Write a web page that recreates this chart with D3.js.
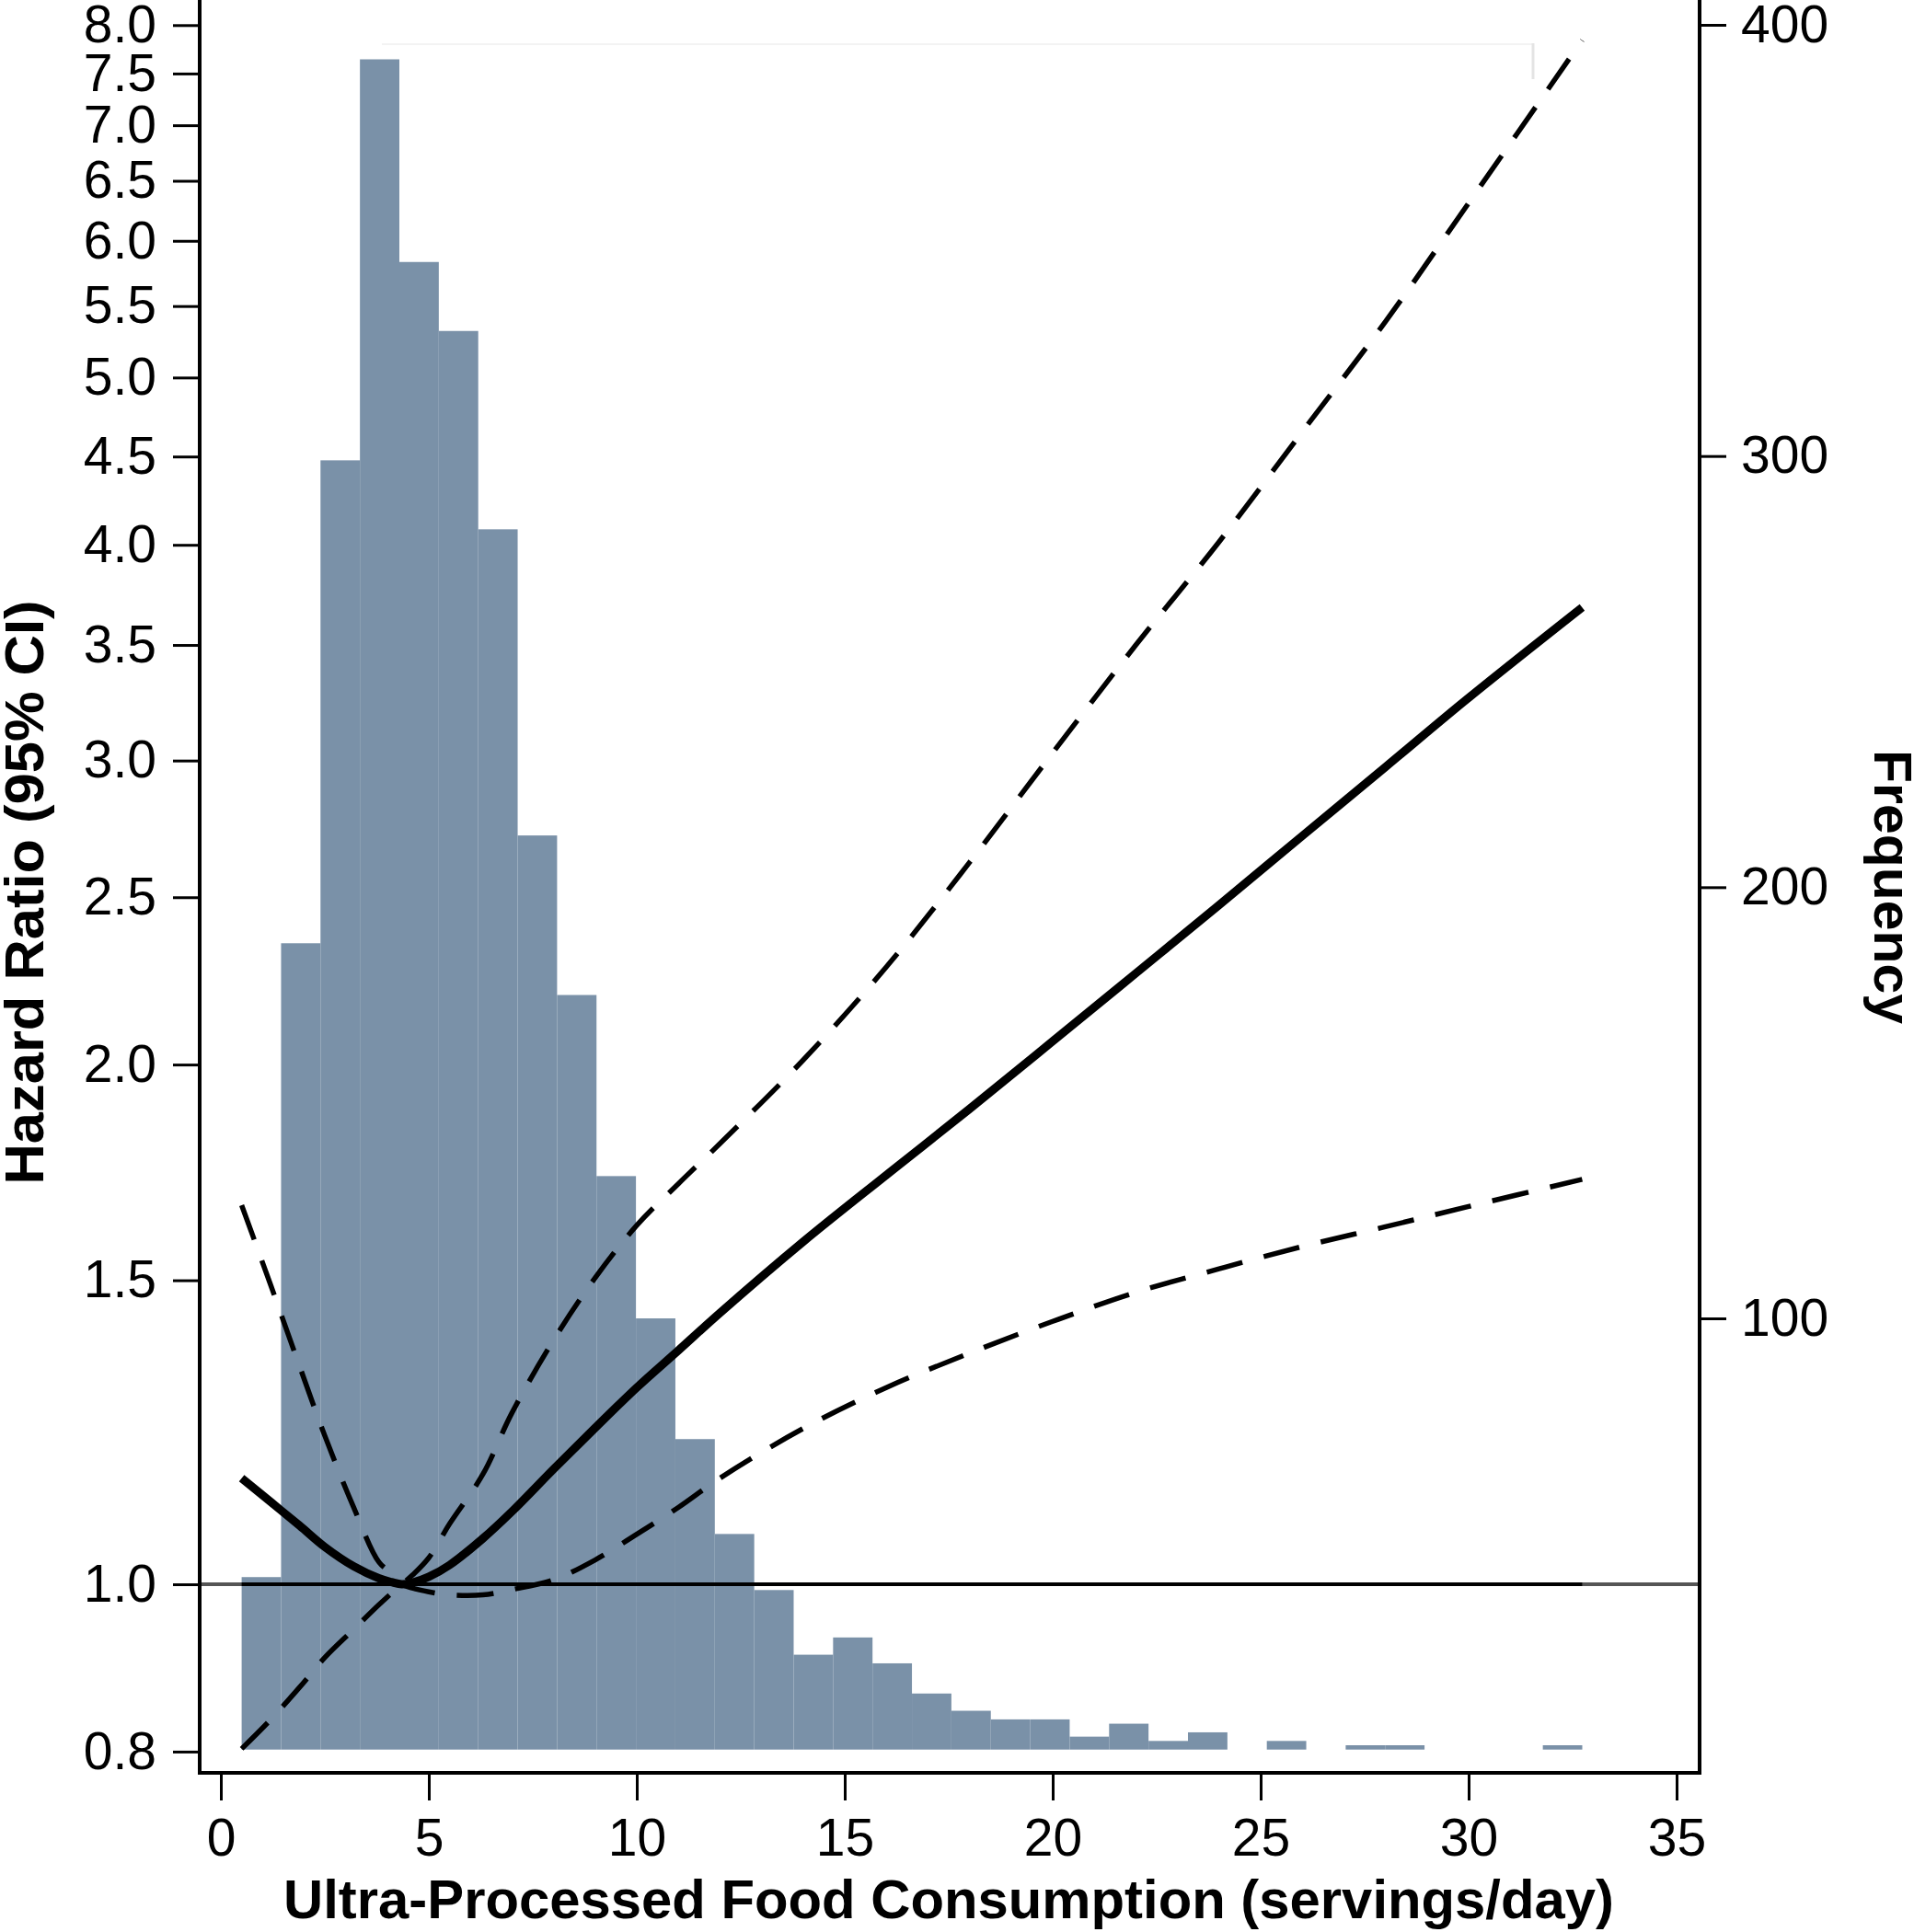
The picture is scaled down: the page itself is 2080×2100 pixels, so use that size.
<!DOCTYPE html>
<html><head><meta charset="utf-8">
<script src="https://cdn.jsdelivr.net/npm/d3@7"></script>
<style>body{margin:0;background:#fff} svg{display:block;background:#fff}</style>
</head><body><svg id="c" width="2080" height="2100"></svg>
<script>
// ---------- data ----------
const servings    = [0.5, 1.2, 1.9, 2.5, 3.2, 3.8, 4.1, 4.35, 4.6, 5.0, 5.5, 6.3, 7.0, 8.0, 9.0, 10.0, 11.0, 12.0, 14.0, 16.0, 18.0, 20.0, 22.0, 24.0, 26.0, 28.0, 30.0, 32.73];
const hazardRatio = [1.152,1.116,1.081,1.051,1.024,1.008,1.003,1.000,1.002,1.010,1.026,1.063,1.102,1.166,1.232,1.300,1.366,1.436,1.579,1.726,1.885,2.063,2.259,2.474,2.713,2.974,3.262,3.680];
const ciUpper     = [1.658,1.490,1.336,1.219,1.107,1.030,1.015,1.000,1.012,1.036,1.084,1.158,1.257,1.385,1.505,1.614,1.706,1.800,2.012,2.278,2.619,3.031,3.500,4.016,4.651,5.387,6.310,7.840];
const ciLower     = [0.803,0.835,0.872,0.907,0.942,0.973,0.988,1.000,0.995,0.990,0.986,0.986,0.993,1.006,1.033,1.069,1.108,1.152,1.231,1.300,1.361,1.420,1.476,1.523,1.569,1.611,1.655,1.716];
const refIndex = 7;          // reference level (HR = 1)
const refHR = 1.0;

const binEdges = [0.500,1.448,2.396,3.344,4.292,5.240,6.188,7.136,8.084,9.032,9.980,10.928,11.876,12.824,13.772,14.720,15.668,16.616,17.564,18.512,19.460,20.408,21.356,22.304,23.252,24.200,25.148,26.096,27.044,27.992,28.940,29.888,30.836,31.784,32.732];
const binFreq  = [40,187,299,392,345,329,283,212,175,133,100,72,50,37,22,26,20,13,9,7,7,3,6,2,4,0,2,0,1,1,0,0,0,1];

const hrTicks   = [0.8,1.0,1.5,2.0,2.5,3.0,3.5,4.0,4.5,5.0,5.5,6.0,6.5,7.0,7.5,8.0];
const xTicks    = [0,5,10,15,20,25,30,35];
const freqTicks = [100,200,300,400];

const xTitle = "Ultra-Processed Food Consumption (servings/day)";
const yTitle = "Hazard Ratio (95% CI)";
const y2Title = "Frequency";

// ---------- layout ----------
const L = 217, R = 1847, T = 0, B = 1927;
const FONT = "'Liberation Sans', Arial, Helvetica, sans-serif";
const BAR = "#7a91a8";

const svg = d3.select('#c');
const x   = d3.scaleLinear().domain([0,35]).range([240,1822]);
const yHR = d3.scaleLog().domain([0.8,8]).range([1903.9,27.3]);
const yF  = d3.scaleLinear().domain([0,400]).range([1901.7,27]);

// histogram
const bins = binFreq.map((f,i)=>({x0:binEdges[i], x1:binEdges[i+1], f}));
svg.append('g').selectAll('rect').data(bins.filter(d=>d.f>0)).join('rect')
  .attr('x', d=>x(d.x0)).attr('width', d=>x(d.x1)-x(d.x0))
  .attr('y', d=>yF(d.f)).attr('height', d=>yF(0)-yF(d.f))
  .attr('fill', BAR);

// faint artifact box at the top
svg.append('line').attr('x1',415).attr('x2',1667).attr('y1',48).attr('y2',48)
  .attr('stroke','#f3f3f3').attr('stroke-width',2);
svg.append('line').attr('x1',1666).attr('x2',1666).attr('y1',47).attr('y2',86)
  .attr('stroke','#e4e4e4').attr('stroke-width',3);

// reference lines at HR = 1
svg.append('line').attr('x1',L).attr('x2',R).attr('y1',yHR(refHR)).attr('y2',yHR(refHR))
  .attr('stroke','#555').attr('stroke-width',4);
svg.append('line').attr('x1',x(servings[0])).attr('x2',x(servings[servings.length-1]))
  .attr('y1',yHR(refHR)).attr('y2',yHR(refHR))
  .attr('stroke','#000').attr('stroke-width',4);

// curves
const pts = arr => servings.map((s,i)=>[s,arr[i]]);
const line = d3.line().x(d=>x(d[0])).y(d=>yHR(d[1])).curve(d3.curveCatmullRom.alpha(0.5));
const up = pts(ciUpper), lo = pts(ciLower);
// draw the CI bounds as two smooth strokes crossing at the reference point
const pathA = lo.slice(0, refIndex+1).concat(up.slice(refIndex+1));
const pathB = up.slice(0, refIndex+1).concat(lo.slice(refIndex+1));
[pathA, pathB].forEach(p=>{
  svg.append('path').attr('d', line(p)).attr('fill','none')
    .attr('stroke','#000').attr('stroke-width',5.5).attr('stroke-dasharray','40,24');
});
svg.append('path').attr('d', line(pts(hazardRatio))).attr('fill','none')
  .attr('stroke','#000').attr('stroke-width',9).attr('stroke-linejoin','round');

// axes
function styleAxis(g){
  g.select('.domain').remove();
  g.selectAll('.tick line').attr('stroke','#000').attr('stroke-width',3);
  g.selectAll('.tick text').attr('fill','#000').attr('font-size',57).attr('font-family',FONT);
}
svg.append('g').attr('transform',`translate(${L},0)`)
  .call(d3.axisLeft(yHR).tickValues(hrTicks).tickFormat(d3.format('.1f')).tickSize(29).tickPadding(18))
  .call(styleAxis);
svg.append('g').attr('transform',`translate(0,${B})`)
  .call(d3.axisBottom(x).tickValues(xTicks).tickFormat(d3.format('d')).tickSize(30).tickPadding(20))
  .call(styleAxis);
svg.append('g').attr('transform',`translate(${R},0)`)
  .call(d3.axisRight(yF).tickValues(freqTicks).tickFormat(d3.format('d')).tickSize(29).tickPadding(16))
  .call(styleAxis);

// frame lines
svg.append('line').attr('x1',L).attr('x2',L).attr('y1',T).attr('y2',B+2).attr('stroke','#000').attr('stroke-width',4);
svg.append('line').attr('x1',R).attr('x2',R).attr('y1',T).attr('y2',B+2).attr('stroke','#000').attr('stroke-width',4);
svg.append('line').attr('x1',L-2).attr('x2',R+2).attr('y1',B).attr('y2',B).attr('stroke','#000').attr('stroke-width',4);

// titles
svg.append('text').attr('x',1031).attr('y',2085).attr('text-anchor','middle')
  .attr('font-family',FONT).attr('font-weight','bold').attr('font-size',59)
  .attr('textLength',1446).attr('lengthAdjust','spacingAndGlyphs').text(xTitle);
svg.append('text').attr('transform','translate(47,970) rotate(-90)').attr('text-anchor','middle')
  .attr('font-family',FONT).attr('font-weight','bold').attr('font-size',59)
  .attr('textLength',635).attr('lengthAdjust','spacingAndGlyphs').text(yTitle);
svg.append('text').attr('transform','translate(2037,964) rotate(90)').attr('text-anchor','middle')
  .attr('font-family',FONT).attr('font-weight','bold').attr('font-size',58)
  .attr('textLength',298).attr('lengthAdjust','spacingAndGlyphs').text(y2Title);
</script></body></html>
